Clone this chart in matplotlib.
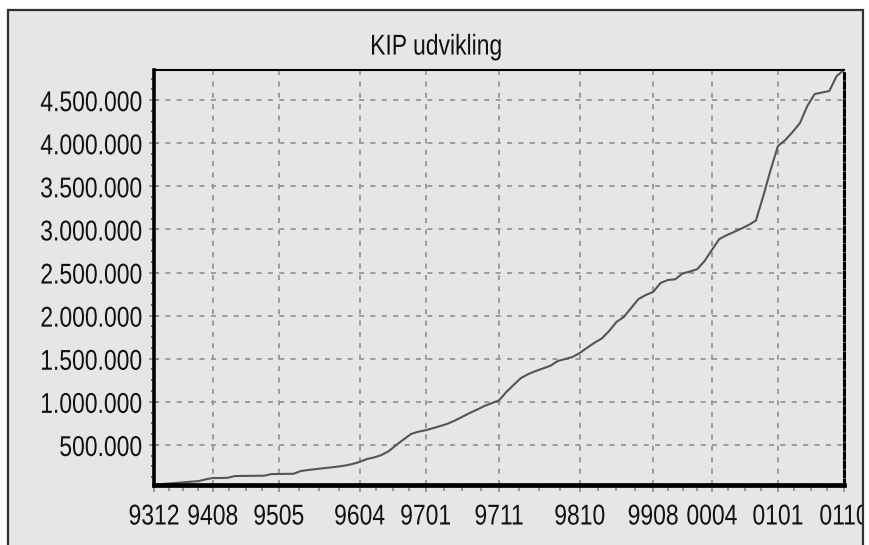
import matplotlib
matplotlib.use("Agg")
import matplotlib.pyplot as plt
from matplotlib.ticker import FixedLocator, MultipleLocator, FuncFormatter
from matplotlib.patches import Rectangle
from matplotlib.patheffects import AbstractPathEffect
from matplotlib.transforms import Affine2D
import pandas as pd

# ---- data ----
months = list(pd.period_range('1993-12', '2001-10', freq='M').strftime('%y%m'))
values = [35000, 46000, 52000, 58000, 66000, 73000, 79000, 100000, 116000, 116000,
          118000, 139000, 140000, 141000, 142000, 143000, 162000, 163000, 164000, 165000,
          197000, 209000, 219000, 229000, 238000, 248000, 260000, 278000, 302000, 336000,
          355000, 383000, 429000, 499000, 563000, 626000, 653000, 670000, 694000, 719000,
          746000, 783000, 826000, 870000, 909000, 951000, 984000, 1017000, 1114000, 1197000,
          1276000, 1322000, 1357000, 1387000, 1418000, 1473000, 1496000, 1520000, 1566000, 1627000,
          1685000, 1734000, 1821000, 1926000, 1984000, 2088000, 2192000, 2239000, 2274000, 2378000,
          2413000, 2421000, 2488000, 2511000, 2538000, 2633000, 2761000, 2888000, 2932000, 2970000,
          3009000, 3051000, 3102000, 3387000, 3689000, 3967000, 4037000, 4130000, 4234000, 4431000,
          4570000, 4588000, 4605000, 4779000, 4849000]
shown_labels = ['9312', '9408', '9505', '9604', '9701', '9711', '9810', '9908', '0004', '0101', '0110']
title = "KIP udvikling"

plt.rcParams['lines.scale_dashes'] = False
FONT = ['Liberation Sans', 'DejaVu Sans']
BG = '#e6e6e6'


class VStretch(AbstractPathEffect):
    """Draw glyphs stretched vertically about the middle of the digit height."""
    def __init__(self, sy=1.25):
        super().__init__()
        self.sy = sy

    def draw_path(self, renderer, gc, tpath, affine, rgbFace=None):
        x0, y0 = affine.transform((0.0, 0.0))
        xc, yc = affine.transform((0.0, 36.0))
        extra = Affine2D().translate(-xc, -yc).scale(1.0, self.sy).translate(xc, yc)
        renderer.draw_path(gc, tpath, affine + extra, rgbFace)


STRETCH = [VStretch(1.25)]

W, H = 869, 545
fig = plt.figure(figsize=(W / 100, H / 100), dpi=100, facecolor='white')

# outer panel (fill behind, border and clipping strip on top)
fig.patches.append(Rectangle((8 / W, -0.05), (863 - 8) / W, 1.05 - 10 / H,
                             transform=fig.transFigure, facecolor=BG,
                             edgecolor='none', zorder=-10))
fig.patches.append(Rectangle((864 / W, -0.05), 10 / W, 1.1,
                             transform=fig.transFigure, facecolor='white',
                             edgecolor='none', zorder=20))
fig.patches.append(Rectangle((8 / W, -0.05), (863 - 8) / W, 1.05 - 10 / H,
                             transform=fig.transFigure, facecolor='none',
                             edgecolor='#303030', linewidth=1.6, zorder=21))

left, right, top, bottom = 154, 844, 70, 485
ax = fig.add_axes([left / W, 1 - bottom / H, (right - left) / W, (bottom - top) / H])
ax.set_facecolor(BG)
ax.set_zorder(1)

x = list(range(len(values)))
ax.plot(x, values, color='#555555', linewidth=1.5, zorder=3, clip_on=False)

ax.set_xlim(0, len(values) - 1)
ax.set_ylim(min(values), max(values))

major_x = [months.index(l) for l in shown_labels]
minor_x = []
for a, b in zip(major_x[:-1], major_x[1:]):
    minor_x += [a + k * (b - a) / 4 for k in (1, 2, 3)]
ax.xaxis.set_major_locator(FixedLocator(major_x))
ax.xaxis.set_minor_locator(FixedLocator(minor_x))
ax.set_xticklabels(shown_labels)

ax.yaxis.set_major_locator(MultipleLocator(500000))
ax.yaxis.set_minor_locator(MultipleLocator(125000))
ax.yaxis.set_major_formatter(FuncFormatter(lambda v, p: f"{int(round(v)):,}".replace(',', '.')))

ax.grid(True, which='major', color='#9a9a9a', linewidth=1.4, linestyle=(0, (3.6, 4.6)))
ax.set_axisbelow(True)

ax.tick_params(axis='x', which='major', length=5, width=1.2, color='#8a8a8a', direction='out',
               pad=9, labelsize=16.5)
ax.tick_params(axis='x', which='minor', length=4, width=1.2, color='#8a8a8a', direction='out')
ax.tick_params(axis='y', which='major', length=7, width=1.2, color='#8a8a8a', direction='inout',
               pad=5, labelsize=16.5)
ax.tick_params(axis='y', which='minor', length=2.5, width=1.2, color='#555555', direction='out')

ax.spines['left'].set_linewidth(2.6)
ax.spines['bottom'].set_linewidth(3.4)
ax.spines['top'].set_linewidth(1.5)
ax.spines['right'].set_linewidth(2.2)
ax.spines['right'].set_linestyle((0, (4, 2.5)))
for s in ax.spines.values():
    s.set_color('black')
    s.set_zorder(4)

fig.text(436 / W, 1 - 46 / H, title, ha='center', va='center', fontsize=16.5,
         family=FONT, color='#111111', path_effects=STRETCH)

fig.canvas.draw()
for lab in ax.get_xticklabels() + ax.get_yticklabels():
    lab.set_family(FONT)
    lab.set_color('#111111')
    lab.set_path_effects(STRETCH)

fig.savefig('out.png', dpi=100, facecolor='white')
